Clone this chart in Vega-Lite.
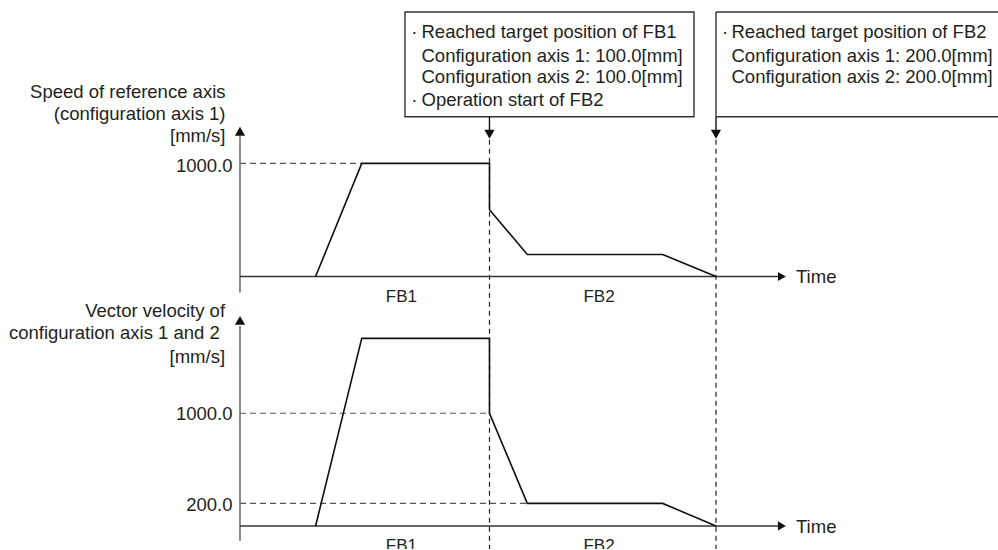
{
  "$schema": "https://vega.github.io/schema/vega-lite/v6.json",
  "width": 998,
  "height": 550,
  "autosize": {"type": "fit", "contains": "padding"},
  "padding": 0,
  "background": "white",
  "config": {"view": {"stroke": null}, "text": {"font": "Liberation Sans"}},
  "datasets": {
    "top_line": [
      {"i": 0, "t": 30.3, "v": 0},
      {"i": 1, "t": 48.8, "v": 1000},
      {"i": 2, "t": 100, "v": 1000},
      {"i": 3, "t": 100, "v": 591},
      {"i": 4, "t": 115.15, "v": 195},
      {"i": 5, "t": 169.4, "v": 195},
      {"i": 6, "t": 190.78, "v": 0}
    ],
    "bot_line": [
      {"i": 0, "t": 30.3, "v": 0},
      {"i": 1, "t": 48.8, "v": 1664},
      {"i": 2, "t": 100, "v": 1664},
      {"i": 3, "t": 100, "v": 1000},
      {"i": 4, "t": 115.15, "v": 200},
      {"i": 5, "t": 169.4, "v": 200},
      {"i": 6, "t": 190.78, "v": 0}
    ],
    "top_hdash": [{"t": 0, "t2": 48.8, "v": 1000}],
    "top_vdash": [
      {"t": 100, "v": 1210, "v2": -2409.5},
      {"t": 190.78, "v": 1210, "v2": -2409.5}
    ],
    "top_stems": [
      {"t": 100, "v": 1412, "v2": 1290},
      {"t": 190.78, "v": 1412, "v2": 1290}
    ],
    "top_markers": [{"t": 100, "v": 1258}, {"t": 190.78, "v": 1258}],
    "top_yaxis": [{"t": 0, "v": -141, "v2": 1240}],
    "top_yarrow": [{"t": 0, "v": 1284}],
    "top_xaxis": [{"t": 0, "t2": 215.6, "v": 0}],
    "top_xarrow": [{"t": 217.2, "v": 0}],
    "box1": [{"t": 66.13, "t2": 181.96, "v": 2339, "v2": 1412}],
    "box2_h": [
      {"t": 190.78, "t2": 303.81, "v": 2339},
      {"t": 190.78, "t2": 303.81, "v": 1412}
    ],
    "box2_v": [{"t": 190.78, "v": 2339, "v2": 1412}],
    "box_text": [
      {"t": 72.75, "v": 2109.4, "label": "Reached target position of FB1"},
      {"t": 72.75, "v": 1900.3, "label": "Configuration axis 1: 100.0[mm]"},
      {"t": 72.75, "v": 1709.6, "label": "Configuration axis 2: 100.0[mm]"},
      {"t": 72.75, "v": 1509.3, "label": "Operation start of FB2"},
      {"t": 197.0, "v": 2109.4, "label": "Reached target position of FB2"},
      {"t": 197.0, "v": 1900.3, "label": "Configuration axis 1: 200.0[mm]"},
      {"t": 197.0, "v": 1709.6, "label": "Configuration axis 2: 200.0[mm]"}
    ],
    "bullets": [
      {"t": 69.86, "v": 2109.4, "label": "·"},
      {"t": 69.86, "v": 1509.3, "label": "·"},
      {"t": 194.4, "v": 2109.4, "label": "·"}
    ],
    "top_ytitle": [
      {"t": -5.81, "v": 1579.9, "label": "Speed of reference axis"},
      {"t": -5.81, "v": 1385.7, "label": "(configuration axis 1)"},
      {"t": -5.81, "v": 1187.1, "label": "[mm/s]"}
    ],
    "top_ticks": [{"t": -3.0, "v": 920.6, "label": "1000.0"}],
    "top_time": [{"t": 222.85, "v": -57.4, "label": "Time"}],
    "top_fb": [
      {"t": 64.7, "v": -223.3, "label": "FB1"},
      {"t": 143.9, "v": -223.3, "label": "FB2"}
    ],
    "bot_hdash": [
      {"t": 0, "t2": 100, "v": 1000},
      {"t": 0, "t2": 115.15, "v": 200}
    ],
    "bot_yaxis": [{"t": 0, "v": -131, "v2": 1775}],
    "bot_yarrow": [{"t": 0, "v": 1823.7}],
    "bot_xaxis": [{"t": 0, "t2": 215.6, "v": 0}],
    "bot_xarrow": [{"t": 217.2, "v": 0}],
    "bot_ytitle": [
      {"t": -6.0, "v": 1853, "label": "Vector velocity of"},
      {"t": -8.1, "v": 1655.5, "label": "configuration axis 1 and 2"},
      {"t": -6.0, "v": 1449.1, "label": "[mm/s]"}
    ],
    "bot_ticks": [
      {"t": -3.0, "v": 940.7, "label": "1000.0"},
      {"t": -3.0, "v": 134.6, "label": "200.0"}
    ],
    "bot_time": [{"t": 222.85, "v": -58.5, "label": "Time"}],
    "bot_fb": [
      {"t": 64.7, "v": -218.8, "label": "FB1"},
      {"t": 143.9, "v": -218.8, "label": "FB2"}
    ]
  },
  "encoding": {
    "x": {"field": "t", "type": "quantitative", "scale": {"domain": [-96.19, 303.81], "nice": false, "zero": false}, "axis": null}
  },
  "layer": [
    {
      "encoding": {
        "y": {"field": "v", "type": "quantitative", "scale": {"domain": [-2409.5, 2444.8], "nice": false, "zero": false}, "axis": null}
      },
      "layer": [
        {"data": {"name": "top_hdash"}, "mark": {"type": "rule", "color": "#555555", "strokeWidth": 1.2, "strokeDash": [6, 4]}, "encoding": {"x2": {"field": "t2"}}},
        {"data": {"name": "top_vdash"}, "mark": {"type": "rule", "color": "#222222", "strokeWidth": 1.2, "strokeDash": [5, 4]}, "encoding": {"y2": {"field": "v2"}}},
        {"data": {"name": "box1"}, "mark": {"type": "rect", "filled": false, "stroke": "#333333", "strokeWidth": 1.4}, "encoding": {"x2": {"field": "t2"}, "y2": {"field": "v2"}}},
        {"data": {"name": "box2_h"}, "mark": {"type": "rule", "color": "#333333", "strokeWidth": 1.4, "clip": true}, "encoding": {"x2": {"field": "t2"}}},
        {"data": {"name": "box2_v"}, "mark": {"type": "rule", "color": "#333333", "strokeWidth": 1.4}, "encoding": {"y2": {"field": "v2"}}},
        {"data": {"name": "top_stems"}, "mark": {"type": "rule", "color": "#111111", "strokeWidth": 1.4}, "encoding": {"y2": {"field": "v2"}}},
        {"data": {"name": "top_markers"}, "mark": {"type": "point", "shape": "triangle-down", "filled": true, "color": "#111111", "size": 105, "opacity": 1}},
        {"data": {"name": "top_yaxis"}, "mark": {"type": "rule", "color": "#707070", "strokeWidth": 1.6}, "encoding": {"y2": {"field": "v2"}}},
        {"data": {"name": "top_yarrow"}, "mark": {"type": "point", "shape": "triangle-up", "filled": true, "color": "#111111", "size": 105, "opacity": 1}},
        {"data": {"name": "top_xaxis"}, "mark": {"type": "rule", "color": "#333333", "strokeWidth": 1.4}, "encoding": {"x2": {"field": "t2"}}},
        {"data": {"name": "top_xarrow"}, "mark": {"type": "point", "shape": "triangle-right", "filled": true, "color": "#111111", "size": 85, "opacity": 1}},
        {"data": {"name": "top_line"}, "mark": {"type": "line", "color": "#111111", "strokeWidth": 1.6}, "encoding": {"order": {"field": "i", "type": "quantitative"}}},
        {"data": {"name": "box_text"}, "mark": {"type": "text", "align": "left", "baseline": "alphabetic", "fontSize": 18.5, "color": "#231f20"}, "encoding": {"text": {"field": "label"}}},
        {"data": {"name": "bullets"}, "mark": {"type": "text", "align": "center", "baseline": "alphabetic", "fontSize": 18.5, "color": "#231f20"}, "encoding": {"text": {"field": "label"}}},
        {"data": {"name": "top_ytitle"}, "mark": {"type": "text", "align": "right", "baseline": "alphabetic", "fontSize": 18.5, "color": "#231f20"}, "encoding": {"text": {"field": "label"}}},
        {"data": {"name": "top_ticks"}, "mark": {"type": "text", "align": "right", "baseline": "alphabetic", "fontSize": 18.5, "color": "#231f20"}, "encoding": {"text": {"field": "label"}}},
        {"data": {"name": "top_time"}, "mark": {"type": "text", "align": "left", "baseline": "alphabetic", "fontSize": 18.5, "color": "#231f20"}, "encoding": {"text": {"field": "label"}}},
        {"data": {"name": "top_fb"}, "mark": {"type": "text", "align": "center", "baseline": "alphabetic", "fontSize": 17, "color": "#231f20"}, "encoding": {"text": {"field": "label"}}}
      ]
    },
    {
      "encoding": {
        "y": {"field": "v", "type": "quantitative", "scale": {"domain": [-204.6, 4667.0], "nice": false, "zero": false}, "axis": null}
      },
      "layer": [
        {"data": {"name": "bot_hdash"}, "mark": {"type": "rule", "color": "#555555", "strokeWidth": 1.2, "strokeDash": [6, 4]}, "encoding": {"x2": {"field": "t2"}}},
        {"data": {"name": "bot_yaxis"}, "mark": {"type": "rule", "color": "#707070", "strokeWidth": 1.6}, "encoding": {"y2": {"field": "v2"}}},
        {"data": {"name": "bot_yarrow"}, "mark": {"type": "point", "shape": "triangle-up", "filled": true, "color": "#111111", "size": 105, "opacity": 1}},
        {"data": {"name": "bot_xaxis"}, "mark": {"type": "rule", "color": "#333333", "strokeWidth": 1.4}, "encoding": {"x2": {"field": "t2"}}},
        {"data": {"name": "bot_xarrow"}, "mark": {"type": "point", "shape": "triangle-right", "filled": true, "color": "#111111", "size": 85, "opacity": 1}},
        {"data": {"name": "bot_line"}, "mark": {"type": "line", "color": "#111111", "strokeWidth": 1.6}, "encoding": {"order": {"field": "i", "type": "quantitative"}}},
        {"data": {"name": "bot_ytitle"}, "mark": {"type": "text", "align": "right", "baseline": "alphabetic", "fontSize": 18.5, "color": "#231f20"}, "encoding": {"text": {"field": "label"}}},
        {"data": {"name": "bot_ticks"}, "mark": {"type": "text", "align": "right", "baseline": "alphabetic", "fontSize": 18.5, "color": "#231f20"}, "encoding": {"text": {"field": "label"}}},
        {"data": {"name": "bot_time"}, "mark": {"type": "text", "align": "left", "baseline": "alphabetic", "fontSize": 18.5, "color": "#231f20"}, "encoding": {"text": {"field": "label"}}},
        {"data": {"name": "bot_fb"}, "mark": {"type": "text", "align": "center", "baseline": "alphabetic", "fontSize": 17, "color": "#231f20", "clip": true}, "encoding": {"text": {"field": "label"}}}
      ]
    }
  ],
  "resolve": {"scale": {"y": "independent"}}
}
